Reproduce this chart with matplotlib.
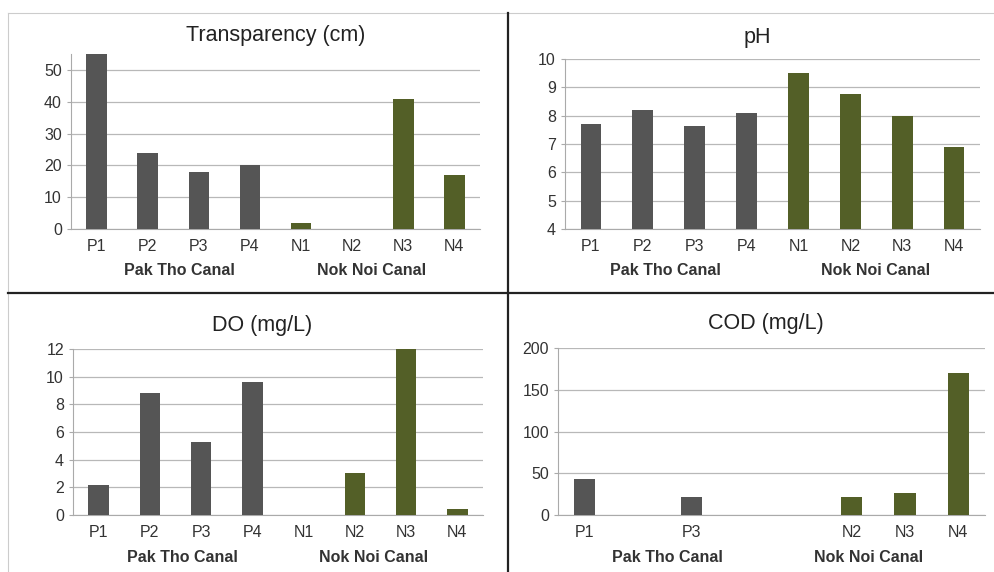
import numpy as np
import matplotlib.pyplot as plt
from matplotlib.lines import Line2D

plt.rcParams['font.family'] = ['Liberation Sans', 'DejaVu Sans']

sites = ['P1', 'P2', 'P3', 'P4', 'N1', 'N2', 'N3', 'N4']
cod_labels = ['P1', '', 'P3', '', '', 'N2', 'N3', 'N4']

transparency = [55, 24, 18, 20, 2, 0, 41, 17]
ph = [7.7, 8.2, 7.65, 8.1, 9.5, 8.75, 8.0, 6.9]
do = [2.2, 8.8, 5.3, 9.6, 0, 3.05, 12.0, 0.45]
cod = [43, 0, 22, 0, 0, 22, 26, 170]

grey = '#555555'
green = '#535f27'
colors = [grey] * 4 + [green] * 4

W, H = 995, 572
fig = plt.figure(figsize=(W / 100, H / 100), dpi=100)


def px_axes(x0, x1, ytop, ybot):
    return fig.add_axes([x0 / W, 1 - ybot / H, (x1 - x0) / W, (ybot - ytop) / H])


def panel(box, values, labels, ylim, yticks, title, title_xy, groups_xy):
    ax = px_axes(*box)
    x = np.arange(len(values))
    base = ylim[0]
    ax.bar(x, np.array(values) - base, bottom=base, width=0.4, color=colors, zorder=3)
    ax.set_xlim(-0.5, len(values) - 0.5)
    ax.set_ylim(*ylim)
    ax.set_yticks(yticks)
    ax.set_xticks(x)
    ax.set_xticklabels(labels, fontsize=11.5, color='#333333')
    ax.tick_params(axis='y', labelsize=11.5, colors='#333333', length=3, color='#aaaaaa')
    ax.tick_params(axis='x', length=0, pad=7)
    ax.yaxis.grid(True, color='#b8b8b8', linewidth=0.9, zorder=0)
    for s in ['top', 'right']:
        ax.spines[s].set_visible(False)
    for s in ['left', 'bottom']:
        ax.spines[s].set_color('#aaaaaa')
    fig.text(title_xy[0] / W, 1 - title_xy[1] / H, title, fontsize=15.5,
             ha='center', va='center', color='#222222')
    for (gx, gy), name in zip(groups_xy, ['Pak Tho Canal', 'Nok Noi Canal']):
        fig.text(gx / W, 1 - gy / H, name, fontsize=11.5, fontweight='bold',
                 ha='center', va='center', color='#333333')
    return ax


panel((71, 480, 54, 229), transparency, sites, (0, 55), range(0, 51, 10),
      'Transparency (cm)', (276, 35), [(179, 270), (372, 270)])
panel((565, 980, 59, 229), ph, sites, (4, 10), range(4, 11),
      'pH', (757, 37), [(665, 270), (876, 270)])
panel((73, 483, 349, 515), do, sites, (0, 12), range(0, 13, 2),
      'DO (mg/L)', (262, 325), [(182, 557), (374, 557)])
panel((558, 985, 348, 515), cod, cod_labels, (0, 200), range(0, 201, 50),
      'COD (mg/L)', (766, 324), [(667, 557), (869, 557)])

# panel frames
def fig_line(xs, ys, color, lw):
    fig.add_artist(Line2D([v / W for v in xs], [1 - v / H for v in ys],
                          color=color, linewidth=lw, transform=fig.transFigure))


fig_line([8, 995], [13, 13], '#cccccc', 0.8)
fig_line([8, 8], [13, 572], '#cccccc', 0.8)
fig_line([508, 508], [13, 572], '#222222', 1.6)
fig_line([8, 995], [293, 293], '#222222', 1.6)

fig.savefig('out.png', dpi=100)
